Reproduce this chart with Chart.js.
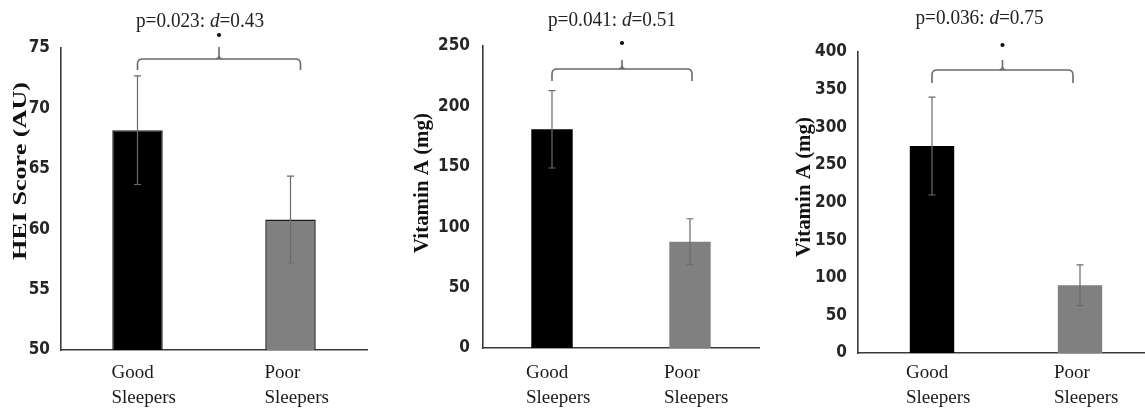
<!DOCTYPE html>
<html><head><meta charset="utf-8">
<script src="https://cdn.jsdelivr.net/npm/chart.js@4.4.1/dist/chart.umd.min.js"></script>
<style>
html,body{margin:0;padding:0;background:#fff;overflow:hidden;width:1145px;height:410px}
.panel{position:absolute;top:0;height:410px}
</style></head><body>
<div class="panel" style="left:0;width:380px"><canvas id="c1" width="380" height="410"></canvas></div>
<div class="panel" style="left:380px;width:380px"><canvas id="c2" width="380" height="410"></canvas></div>
<div class="panel" style="left:760px;width:400px"><canvas id="c3" width="400" height="410"></canvas></div>
<script>
// data
const CATS=[['Good','Sleepers'],['Poor','Sleepers']];
const HEI_MEAN=[68.2,60.8];
const HEI_ERR=[4.5,3.6];
const VITA1_MEAN=[181,88];
const VITA1_ERR=[32,19];
const VITA2_MEAN=[275,90];
const VITA2_ERR=[65,27];
const Y_TITLES=['HEI Score (AU)','Vitamin A (mg)','Vitamin A (mg)'];
const P_TEXT=[['p=0.023: ','d','=0.43'],['p=0.041: ','d','=0.51'],['p=0.036: ','d','=0.75']];

const SERIF="'Liberation Serif','Times New Roman',serif";
const TICKFONT="'Liberation Sans Narrow','DejaVu Sans Condensed','Liberation Sans',sans-serif";

function stretchText(ctx,parts,x,y,target){
  let w=0;parts.forEach(p=>{ctx.font=p.f;w+=ctx.measureText(p.t).width;});
  ctx.save();ctx.translate(x,y);ctx.scale(target/w,1);
  let cx=-w/2;
  parts.forEach(p=>{ctx.font=p.f;ctx.fillText(p.t,cx,0);cx+=ctx.measureText(p.t).width;});
  ctx.restore();
}

function annot(cfg){
  return {id:'annot',
    afterDatasetsDraw(chart){
      const ctx=chart.ctx,ys=chart.scales.y,meta=chart.getDatasetMeta(0);
      ctx.save();ctx.strokeStyle='#6b6b6b';ctx.lineWidth=1.2;
      cfg.mean.forEach((m,i)=>{
        const x=meta.data[i].x,t=ys.getPixelForValue(m+cfg.err[i]),b=ys.getPixelForValue(m-cfg.err[i]);
        ctx.beginPath();ctx.moveTo(x,t);ctx.lineTo(x,b);
        ctx.moveTo(x-3.5,t);ctx.lineTo(x+3.5,t);ctx.moveTo(x-3.5,b);ctx.lineTo(x+3.5,b);ctx.stroke();
      });
      ctx.restore();
    },
    afterDraw(chart){
      const ctx=chart.ctx,meta=chart.getDatasetMeta(0);
      ctx.save();
      // y title
      ctx.fillStyle='#111';ctx.textAlign='left';ctx.textBaseline='middle';
      ctx.save();ctx.translate(cfg.titleX,cfg.titleY);ctx.rotate(-Math.PI/2);
      stretchText(ctx,[{t:cfg.title,f:'bold '+cfg.titleSize+'px '+SERIF}],0,0,cfg.titleLen);
      ctx.restore();
      // category labels
      ctx.font='19px '+SERIF;ctx.fillStyle='#1a1a1a';ctx.textAlign='left';
      CATS.forEach((lines,i)=>{
        const x=meta.data[i].x-26;
        lines.forEach((l,j)=>ctx.fillText(l,x,373+j*25));
      });
      // bracket
      const x0=meta.data[0].x,x1=meta.data[1].x+cfg.bDx,xm=(x0+x1)/2,r=5;
      ctx.strokeStyle='#6b6b6b';ctx.lineWidth=1.6;
      ctx.beginPath();
      ctx.moveTo(x0,cfg.bEnd);ctx.lineTo(x0,cfg.bTop+r);ctx.quadraticCurveTo(x0,cfg.bTop,x0+r,cfg.bTop);
      ctx.lineTo(x1-r,cfg.bTop);ctx.quadraticCurveTo(x1,cfg.bTop,x1,cfg.bTop+r);ctx.lineTo(x1,cfg.bEnd);
      ctx.moveTo(xm-4,cfg.bTop);ctx.quadraticCurveTo(xm,cfg.bTop,xm,cfg.bTop-4);ctx.lineTo(xm,cfg.bNotch);
      ctx.moveTo(xm+4,cfg.bTop);ctx.quadraticCurveTo(xm,cfg.bTop,xm,cfg.bTop-4);
      ctx.stroke();
      // star and p text
      ctx.fillStyle='#111';ctx.beginPath();ctx.arc(xm,cfg.star,2.1,0,Math.PI*2);ctx.fill();
      ctx.fillStyle='#222';ctx.textBaseline='middle';
      const p=cfg.ptext;
      stretchText(ctx,[{t:p[0],f:'20px '+SERIF},{t:p[1],f:'italic 20px '+SERIF},{t:p[2],f:'20px '+SERIF}],xm+cfg.tDx,cfg.tY,128);
      ctx.restore();
    }};
}

function makeChart(id,mean,err,bar,yopt,lay,cfg){
  cfg.mean=mean;cfg.err=err;
  return new Chart(document.getElementById(id),{
    type:'bar',
    data:{labels:CATS,datasets:[{data:mean,backgroundColor:['#000000','#808080'],
      borderColor:'#1c1c1c',borderWidth:bar.border,barPercentage:bar.pct,categoryPercentage:1}]},
    options:{responsive:false,animation:false,
      layout:{padding:lay.pad},
      plugins:{legend:{display:false},tooltip:{enabled:false}},
      scales:{
        x:{grid:{display:false,drawTicks:false},ticks:{display:false},
          border:{color:'#3a3a3a',width:1.6},afterFit:s=>{s.height=0;}},
        y:{min:yopt.min,max:yopt.max,grid:{display:false,drawTicks:false},
          border:{color:'#3a3a3a',width:1.6},
          ticks:{stepSize:yopt.step,padding:lay.tickPad,color:'#262626',font:{family:TICKFONT,size:17,weight:'bold'}},
          afterFit:s=>{s.width=lay.yw;}}
      }},
    plugins:[annot(cfg)]
  });
}

makeChart('c1',HEI_MEAN,HEI_ERR,{border:1.5,pct:0.33},{min:50,max:75,step:5},
  {pad:{left:0,right:13,top:48,bottom:60},yw:61,tickPad:11},
  {title:Y_TITLES[0],titleSize:19,titleX:21,titleY:171,titleLen:178,bDx:10,bTop:59,bEnd:70,bNotch:47,star:35,tDx:-19,tY:22,ptext:P_TEXT[0]});
makeChart('c2',VITA1_MEAN,VITA1_ERR,{border:0,pct:0.30},{min:0,max:250,step:50},
  {pad:{left:0,right:1,top:46,bottom:62},yw:103,tickPad:13},
  {title:Y_TITLES[1],titleSize:21,titleX:43,titleY:183,titleLen:140,bDx:2,bTop:69,bEnd:81,bNotch:60,star:43,tDx:-10,tY:21,ptext:P_TEXT[1]});
makeChart('c3',VITA2_MEAN,VITA2_ERR,{border:0,pct:0.30},{min:0,max:400,step:50},
  {pad:{left:0,right:6,top:52,bottom:57},yw:98,tickPad:11},
  {title:Y_TITLES[2],titleSize:21,titleX:45,titleY:187,titleLen:140,bDx:-7,bTop:70,bEnd:83,bNotch:60,star:45,tDx:-23,tY:19,ptext:P_TEXT[2]});
</script>
</body></html>
